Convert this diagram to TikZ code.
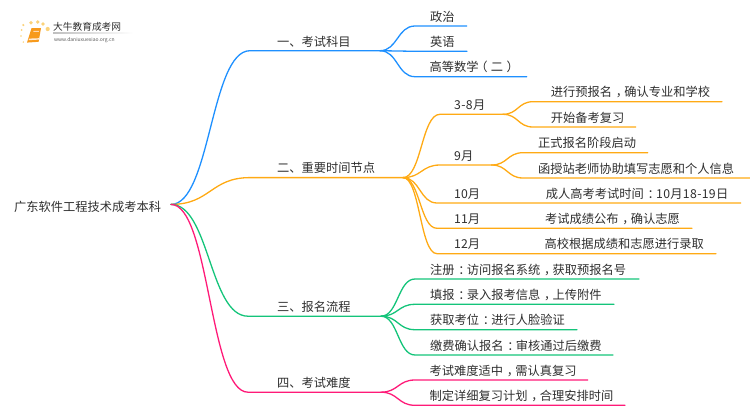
\documentclass[tikz,border=0pt]{standalone}
\usepackage{fontspec}
\setmainfont{Noto Sans CJK SC}
\usetikzlibrary{calc}
\definecolor{cblue}{HTML}{1E90FF}
\definecolor{corange}{HTML}{FFAA14}
\definecolor{cgreen}{HTML}{14C47A}
\definecolor{cpink}{HTML}{FF1A78}
\definecolor{ctext}{HTML}{2E2E2E}
\definecolor{cbook}{HTML}{F79A1C}
\definecolor{cdot}{HTML}{FBD27A}
\newcommand{\cm}{\kern0.3em，\kern-0.3em}
\newcommand{\cl}{\kern0.3em：\kern-0.3em}
\tikzset{
  x=1pt,y=-1pt,
  link/.style={line width=1.3pt,line cap=round,line join=round},
  sc/.style={to path={let \p1=(\tikztostart),\p2=(\tikztotarget) in
    .. controls ({0.5*\x1+0.5*\x2},\y1) and ({0.5*\x1+0.5*\x2},\y2) .. (\tikztotarget)}},
  lbl/.style={anchor=base west,inner sep=0pt,font=\fontsize{12.25pt}{14pt}\selectfont,text=ctext},
}
% from, name, curve end x, line end x, y, colour
\newcommand{\br}[6]{%
  \coordinate (#2c) at (#3,#5);
  \coordinate (#2) at (#4,#5);
  \draw[link,#6] (#1) to[sc] (#2c) -- (#2);
}
% name, x, baseline y, text
\newcommand{\lb}[4]{\node[lbl] (#1) at (#2,#3) {#4};}
\begin{document}
\begin{tikzpicture}
\useasboundingbox (0,0) rectangle (750,410);
\coordinate (root) at (171,204.4);
\lb{troot}{14}{211}{广东软件工程技术成考本科}
% level 1
\br{root}{a}{250}{380}{50.7}{cblue}
\br{root}{b}{250}{403}{177.6}{corange}
\br{root}{c}{248}{381}{316.2}{cgreen}
\br{root}{d}{248}{381}{392.2}{cpink}
\lb{ta}{277}{46}{一、考试科目}
\lb{tb}{277}{172.5}{二、重要时间节点}
\lb{tc}{277}{311}{三、报名流程}
\lb{td}{277}{387}{四、考试难度}
% blue
\br{a}{a1}{415}{466.7}{26}{cblue}
\br{a}{a2}{415}{467}{51.3}{cblue}
\br{a}{a3}{415}{526.7}{76.7}{cblue}
\lb{ta1}{430}{21}{政治}
\lb{ta2}{430}{46.3}{英语}
\lb{ta3}{429.5}{71.7}{高等数学\kern-0.28em（\kern0.28em二\kern0.28em）\kern-0.28em}
% orange
\br{b}{b1}{440}{503}{114.3}{corange}
\br{b}{b2}{440}{491.7}{165}{corange}
\br{b}{b3}{437}{740.7}{203}{corange}
\br{b}{b4}{437}{692}{228.3}{corange}
\br{b}{b5}{437}{716}{253.7}{corange}
\lb{tb1}{454}{109.3}{\addfontfeature{LetterSpace=3}3-8月}
\lb{tb2}{454}{160}{9月}
\lb{tb3}{454}{198}{10月}
\lb{tb4}{454}{223.3}{11月}
\lb{tb5}{454}{248.7}{12月}
\br{b1}{b11}{533}{722}{101.7}{corange}
\br{b1}{b12}{533}{635.7}{127}{corange}
\br{b2}{b21}{523}{647.7}{152.7}{corange}
\br{b2}{b22}{523}{750}{178}{corange}
\lb{tb11}{550.7}{96.7}{进行预报名\cm 确认专业和学校}
\lb{tb12}{550.7}{122}{开始备考复习}
\lb{tb21}{538}{147.7}{正式报名阶段启动}
\lb{tb22}{538}{173}{函授站老师协助填写志愿和个人信息}
\lb{tb31}{545.7}{198}{成人高考考试时间\cl {\addfontfeature{LetterSpace=2.7}10月18-19日}}
\lb{tb41}{545}{223.3}{考试成绩公布\cm 确认志愿}
\lb{tb51}{544.5}{248.7}{高校根据成绩和志愿进行录取}
% green
\br{c}{c1}{415}{639}{279}{cgreen}
\br{c}{c2}{415}{614}{304.3}{cgreen}
\br{c}{c3}{415}{577}{329.7}{cgreen}
\br{c}{c4}{415}{613}{355}{cgreen}
\lb{tc1}{430}{274}{注册\cl 访问报名系统\cm 获取预报名号}
\lb{tc2}{430}{299.3}{填报\cl 录入报考信息\cm 上传附件}
\lb{tc3}{430}{324.7}{获取考位\cl 进行人脸验证}
\lb{tc4}{430}{350}{缴费确认报名\cl 审核通过后缴费}
% pink
\br{d}{d1}{415}{587.7}{380}{cpink}
\br{d}{d2}{415}{625}{405.3}{cpink}
\lb{td1}{429.5}{375}{考试难度适中\cm 需认真复习}
\lb{td2}{429.5}{400.3}{制定详细复习计划\cm 合理安排时间}
% logo
\fill[cbook] (31.5,28.2) -- (41,28.2) -- (38.6,41.8) -- (27,42.6) -- cycle;
\fill[white!85!orange] (29,38.6) -- (39,38.2) -- (38.8,39.6) -- (28.6,40.2) -- cycle;
\fill[white!70!orange] (33.5,30.8) -- (39,30.8) -- (38.8,31.8) -- (33.3,31.8) -- cycle;
\foreach \p/\r in {{21,36}/0.9,{21.7,30}/1.0,{23.3,25}/1.2,{23.3,42}/0.8,{31,22.7}/1.8,{37.7,22}/1.9,{43,24}/1.9,{47.7,29}/2.1}
  \fill[cdot] (\p) circle (\r);
\node[anchor=base west,inner sep=0pt,font=\fontsize{9.7pt}{11pt}\selectfont,text=ctext] (logotext) at (53,30.5) {大牛教育成考网};
\node[anchor=base west,inner sep=0pt,font=\fontsize{5pt}{6pt}\selectfont,text=black!65] (logourl) at (54,41) {www.daniuxuexiao.org.cn};
\shade[left color=black!25,right color=white] (53,32.8) rectangle (133,33.4);
\end{tikzpicture}
\end{document}
